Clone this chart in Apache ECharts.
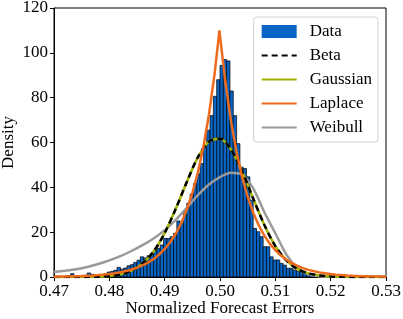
<!DOCTYPE html>
<html>
<head>
<meta charset="utf-8">
<script src="https://cdn.jsdelivr.net/npm/echarts@6/dist/echarts.min.js"></script>
<style>
  html, body { margin: 0; padding: 0; background: #fff; }
  #chart { width: 403px; height: 319px; }
</style>
</head>
<body>
<div id="chart"></div>
<script>
// histogram bins (left edges) and density heights
const binLefts = [
  0.4712, 0.4718, 0.4724, 0.4730, 0.4736, 0.4742, 0.4748, 0.4754, 0.4760, 0.4766,
  0.4772, 0.4778, 0.4784, 0.4790, 0.4796, 0.4802, 0.4808, 0.4814, 0.4820, 0.4826,
  0.4832, 0.4838, 0.4844, 0.4850, 0.4856, 0.4862, 0.4868, 0.4874, 0.4880, 0.4886,
  0.4892, 0.4898, 0.4904, 0.4910, 0.4916, 0.4922, 0.4928, 0.4934, 0.4940, 0.4946,
  0.4952, 0.4958, 0.4964, 0.4970, 0.4976, 0.4982, 0.4988, 0.4994, 0.5000, 0.5006,
  0.5012, 0.5018, 0.5024, 0.5030, 0.5036, 0.5042, 0.5048, 0.5054, 0.5060, 0.5066,
  0.5072, 0.5078, 0.5084, 0.5090, 0.5096, 0.5102, 0.5108, 0.5114, 0.5120, 0.5126,
  0.5132, 0.5138, 0.5144, 0.5150, 0.5156, 0.5162, 0.5168, 0.5174, 0.5180, 0.5186,
  0.5192
]
const binWidth = 0.0006
const binHeights = [
  0, 0.3, 0.6, 1.5, 0.5, 0.3, 0.5, 0.8, 1.8, 1.2,
  0.6, 0.8, 1.0, 1.5, 2.2, 2.5, 3.0, 4.3, 3.5, 4.0,
  5.0, 5.5, 6.5, 7.5, 9.0, 8.5, 9.5, 10.5, 12.0, 12.8,
  14.3, 17.2, 17.2, 18.0, 19.5, 25.0, 23.8, 29.0, 33.0, 37.0,
  41.7, 46.0, 50.6, 58.8, 65.5, 72.0, 80.6, 88.0, 94.4, 97.0,
  96.4, 83.0, 72.0, 59.5, 49.0, 48.4, 44.7, 34.3, 21.7, 20.2,
  18.0, 13.5, 13.5, 9.0, 7.6, 7.6, 6.1, 5.3, 3.9, 3.9,
  3.1, 2.6, 2.3, 2.0, 1.5, 1.2, 1.0, 0.7, 0.5, 0.3,
  0.2
]

// fitted curves
const fitX = [
  0.470, 0.472, 0.474, 0.476, 0.478, 0.480, 0.482, 0.484, 0.486, 0.488,
  0.490, 0.492, 0.494, 0.496, 0.498, 0.500, 0.502, 0.504, 0.506, 0.508,
  0.510, 0.512, 0.514, 0.516, 0.518, 0.520, 0.522, 0.524, 0.526, 0.528,
  0.530
]
const betaY = [
  0.0, 0.0, 0.01, 0.05, 0.16, 0.46, 1.2, 2.84, 6.0, 11.4,
  19.6, 30.4, 42.4, 53.4, 60.4, 61.7, 56.8, 47.1, 35.0, 23.3,
  13.8, 7.4, 3.6, 1.6, 0.7, 0.25, 0.08, 0.03, 0.01, 0.0,
  0.0
]
const gaussianY = [
  0.0, 0.0, 0.01, 0.05, 0.16, 0.46, 1.2, 2.84, 6.0, 11.4,
  19.6, 30.4, 42.4, 53.4, 60.4, 61.7, 56.8, 47.1, 35.0, 23.3,
  13.8, 7.4, 3.6, 1.6, 0.7, 0.25, 0.08, 0.03, 0.01, 0.0,
  0.0
]
const weibullY = [
  2.2, 2.8, 3.5, 4.5, 5.8, 7.4, 9.3, 11.6, 14.2, 17.2,
  20.9, 25.5, 30.8, 36.5, 41.3, 44.6, 46.5, 45.6, 39.5, 29.0,
  19.5, 10.0, 4.0, 1.2, 0.3, 0.05, 0, 0, 0, 0,
  0
]
const laplaceX = [
  0.470, 0.471, 0.472, 0.473, 0.474, 0.475, 0.476, 0.477, 0.478, 0.479,
  0.480, 0.481, 0.482, 0.483, 0.484, 0.485, 0.486, 0.487, 0.488, 0.489,
  0.490, 0.491, 0.492, 0.493, 0.494, 0.495, 0.496, 0.497, 0.498, 0.499,
  0.4999,
  0.500, 0.501, 0.502, 0.503, 0.504, 0.505, 0.506, 0.507, 0.508, 0.509,
  0.510, 0.511, 0.512, 0.513, 0.514, 0.515, 0.516, 0.517, 0.518, 0.519,
  0.520, 0.521, 0.522, 0.523, 0.524, 0.525, 0.526, 0.527, 0.528, 0.529,
  0.530
]
const laplaceY = [
  0.15, 0.19, 0.24, 0.30, 0.37, 0.46, 0.57, 0.71, 0.89, 1.11,
  1.38, 1.72, 2.15, 2.67, 3.33, 4.15, 5.17, 6.45, 8.0, 10.0,
  12.5, 15.5, 19.3, 24.1, 30.0, 37.4, 46.6, 58.1, 72.4, 90.2,
  110,
  107.6, 86.3, 69.3, 55.6, 44.6, 35.8, 28.7, 23.1, 18.5, 14.9,
  11.9, 9.6, 7.7, 6.2, 4.96, 3.98, 3.19, 2.56, 2.06, 1.65,
  1.32, 1.06, 0.85, 0.68, 0.55, 0.44, 0.35, 0.28, 0.23, 0.18,
  0.15
]

const xTicks = [0.47, 0.48, 0.49, 0.50, 0.51, 0.52, 0.53]
const yTicks = [0, 20, 40, 60, 80, 100, 120]

const FONT = "'Liberation Serif', 'Times New Roman', serif"
const BAR_COLOR = '#0865c6'

function pairs(xs, ys) {
  return xs.map((x, i) => [x, ys[i]])
}

const chart = echarts.init(document.getElementById('chart'), null, { renderer: 'canvas' })

// line legend entries: keep the stroke, hide the marker dot
const noDot = { opacity: 0 }

const option = {
  animation: false,
  grid: {
    left: 54,
    top: 8,
    width: 332,
    height: 269,
    outerBoundsMode: 'none',
    containLabel: false,
    show: true,
    borderColor: '#000',
    borderWidth: 1,
    backgroundColor: 'transparent'
  },
  legend: {
    orient: 'vertical',
    right: 25,
    top: 17,
    padding: [6, 6, 6, 7],
    itemWidth: 35,
    itemHeight: 13,
    itemGap: 7,
    backgroundColor: 'rgba(255,255,255,0.85)',
    borderColor: '#d0d0d0',
    borderWidth: 1,
    borderRadius: 3,
    textStyle: {
      fontFamily: FONT,
      fontSize: 17,
      color: '#000',
      padding: [0, 0, 0, 8]
    },
    data: [
      { name: 'Data', icon: 'rect', itemStyle: { borderWidth: 0 } },
      { name: 'Beta', itemStyle: noDot },
      { name: 'Gaussian', itemStyle: noDot },
      { name: 'Laplace', itemStyle: noDot },
      { name: 'Weibull', itemStyle: noDot }
    ]
  },
  xAxis: {
    type: 'value',
    min: xTicks[0],
    max: xTicks[xTicks.length - 1],
    interval: 0.01,
    name: 'Normalized Forecast Errors',
    nameLocation: 'middle',
    nameGap: 23,
    nameMoveOverlap: false,
    nameTextStyle: { fontFamily: FONT, fontSize: 17, color: '#000' },
    axisLine: { show: true, onZero: false, lineStyle: { color: '#000', width: 1 } },
    axisTick: { show: true, inside: false, length: 4, lineStyle: { color: '#000' } },
    axisLabel: {
      fontFamily: FONT, fontSize: 17, color: '#000', margin: 6,
      formatter: v => v.toFixed(2)
    },
    splitLine: { show: false }
  },
  yAxis: {
    type: 'value',
    min: yTicks[0],
    max: yTicks[yTicks.length - 1],
    interval: 20,
    name: 'Density',
    nameLocation: 'middle',
    nameGap: 37,
    nameMoveOverlap: false,
    nameTextStyle: { fontFamily: FONT, fontSize: 17, color: '#000' },
    axisLine: { show: true, lineStyle: { color: '#000', width: 1 } },
    axisTick: { show: true, inside: false, length: 4, lineStyle: { color: '#000' } },
    axisLabel: { fontFamily: FONT, fontSize: 17, color: '#000', margin: 6 },
    splitLine: { show: false }
  },
  series: [
    {
      name: 'Data',
      type: 'custom',
      z: 1,
      itemStyle: { color: BAR_COLOR },
      data: pairs(binLefts, binHeights),
      encode: { x: 0, y: 1 },
      renderItem: function (params, api) {
        const x0 = api.value(0)
        const h = api.value(1)
        const p0 = api.coord([x0, 0])
        const p1 = api.coord([x0 + binWidth, h])
        return {
          type: 'rect',
          shape: { x: p0[0], y: p1[1], width: p1[0] - p0[0], height: p0[1] - p1[1] },
          style: { fill: BAR_COLOR, stroke: '#000', lineWidth: 0.7 }
        }
      }
    },
    {
      name: 'Weibull',
      type: 'line',
      z: 2,
      symbol: 'none',
      smooth: 0.3,
      color: '#9a9a9a',
      lineStyle: { color: '#9a9a9a', width: 2.5 },
      data: pairs(fitX, weibullY)
    },
    {
      name: 'Gaussian',
      type: 'line',
      z: 3,
      symbol: 'none',
      smooth: 0.3,
      color: '#a3b100',
      lineStyle: { color: '#a3b100', width: 2.5 },
      data: pairs(fitX, gaussianY)
    },
    {
      name: 'Beta',
      type: 'line',
      z: 4,
      symbol: 'none',
      smooth: 0.3,
      color: '#000',
      lineStyle: { color: '#000', width: 2.5, type: [6, 4] },
      data: pairs(fitX, betaY)
    },
    {
      name: 'Laplace',
      type: 'line',
      z: 5,
      symbol: 'none',
      color: '#ee6a1c',
      lineStyle: { color: '#ee6a1c', width: 2.5 },
      data: pairs(laplaceX, laplaceY)
    }
  ]
}

chart.setOption(option)
</script>
</body>
</html>
